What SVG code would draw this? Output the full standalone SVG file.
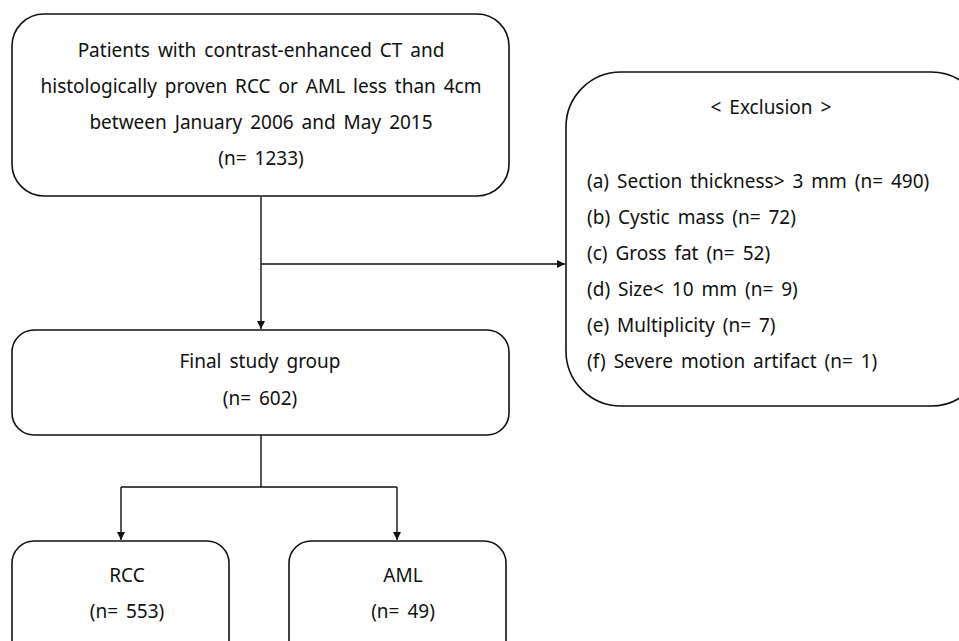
<svg xmlns="http://www.w3.org/2000/svg" width="959" height="641" viewBox="0 0 959 641">
<defs>
<marker id="arr" viewBox="0 0 10 10" refX="10" refY="5" markerWidth="8" markerHeight="8" markerUnits="userSpaceOnUse" orient="auto">
<path d="M0,0 L10,5 L0,10 z" fill="#111"/>
</marker>
<style>
.box{fill:#fff;stroke:#111;stroke-width:1.6}
.t{font-family:"Noto Sans","Noto Sans CJK KR",sans-serif;font-size:19px;fill:#111;word-spacing:3px}
.c{text-anchor:middle}
.ln{fill:none;stroke:#111;stroke-width:1.4}
</style>
</defs>
<rect width="959" height="641" fill="#fff"/>
<g id="connectors">
<path class="ln" d="M261,197 V329" marker-end="url(#arr)"/>
<path class="ln" d="M261,264 H565" marker-end="url(#arr)"/>
<path class="ln" d="M261,435 V487 M121,487 H397"/>
<path class="ln" d="M121,487 V540" marker-end="url(#arr)"/>
<path class="ln" d="M397,487 V540" marker-end="url(#arr)"/>
</g>
<g id="n-patients">
<rect class="box" x="12" y="14" width="497" height="182" rx="32" ry="32"/>
<text class="t c" x="261" y="57">Patients with contrast-enhanced CT and</text>
<text class="t c" x="261" y="93">histologically proven RCC or AML less than 4cm</text>
<text class="t c" x="261" y="129">between January 2006 and May 2015</text>
<text class="t c" x="261" y="165">(n= 1233)</text>
</g>
<g id="n-exclusion">
<rect class="box" x="566" y="72" width="420" height="334" rx="55" ry="55"/>
<text class="t c" x="771" y="114">&lt; Exclusion &gt;</text>
<text class="t" x="587" y="188">(a) Section thickness&gt; 3 mm (n= 490)</text>
<text class="t" x="587" y="224">(b) Cystic mass (n= 72)</text>
<text class="t" x="587" y="260">(c) Gross fat (n= 52)</text>
<text class="t" x="587" y="296">(d) Size&lt; 10 mm (n= 9)</text>
<text class="t" x="587" y="332">(e) Multiplicity (n= 7)</text>
<text class="t" x="587" y="368">(f) Severe motion artifact (n= 1)</text>
</g>
<g id="n-final">
<rect class="box" x="12" y="330" width="497" height="105" rx="22" ry="22"/>
<text class="t c" x="260" y="368">Final study group</text>
<text class="t c" x="260" y="405">(n= 602)</text>
</g>
<g id="n-rcc">
<rect class="box" x="12" y="541" width="217" height="130" rx="22" ry="22"/>
<text class="t c" x="127" y="582">RCC</text>
<text class="t c" x="127" y="618">(n= 553)</text>
</g>
<g id="n-aml">
<rect class="box" x="289" y="541" width="217" height="130" rx="22" ry="22"/>
<text class="t c" x="403" y="582">AML</text>
<text class="t c" x="403" y="618">(n= 49)</text>
</g>
</svg>
